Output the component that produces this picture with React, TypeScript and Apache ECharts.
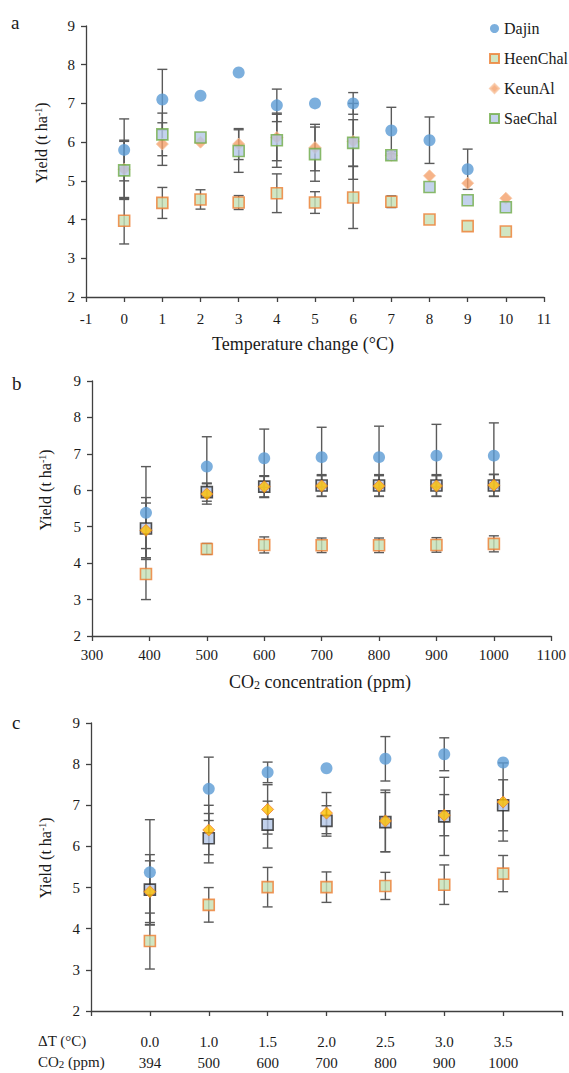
import React, { useEffect, useRef } from "react";
import * as echarts from "echarts";

// ---- Panel a: temperature change ----
const tempX = [0, 1, 2, 3, 4, 5, 6, 7, 8, 9, 10];
const dajinA = [5.8, 7.1, 7.2, 7.8, 6.95, 7.0, 7.0, 6.3, 6.05, 5.3, null];
const dajinAErr = [0.8, 0.78, 0, 0, 0.42, 0, 0.28, 0.6, 0.6, 0.52, 0];
const heenA = [3.97, 4.43, 4.52, 4.44, 4.68, 4.44, 4.57, 4.46, 4.0, 3.83, 3.69];
const heenAErr = [0.6, 0.4, 0.25, 0.18, 0.5, 0.28, 0.8, 0.15, 0, 0, 0];
const keunA = [5.3, 5.95, 6.0, 5.95, 6.12, 5.86, 6.02, 5.66, 5.13, 4.94, 4.55];
const keunAErr = [0.75, 0.55, 0, 0.4, 0.6, 0.6, 0.98, 0, 0, 0, 0];
const saeA = [5.27, 6.2, 6.12, 5.77, 6.05, 5.69, 5.98, 5.66, 4.84, 4.5, 4.32];
const saeAErr = [0.75, 0.55, 0, 0.55, 0.7, 0.7, 0.6, 0.1, 0, 0, 0];

// ---- Panel b: CO2 concentration ----
const co2X = [394, 500, 600, 700, 800, 900, 1000];
const dajinB = [5.38, 6.65, 6.88, 6.91, 6.91, 6.95, 6.95];
const dajinBErr = [1.27, 0.82, 0.8, 0.82, 0.85, 0.86, 0.9];
const heenB = [3.7, 4.39, 4.5, 4.49, 4.49, 4.5, 4.53];
const heenBErr = [0.7, 0.15, 0.22, 0.2, 0.2, 0.2, 0.22];
const keunB = [4.9, 5.9, 6.1, 6.12, 6.12, 6.12, 6.14];
const keunBErr = [0.75, 0.28, 0.3, 0.28, 0.28, 0.28, 0.3];
const saeB = [4.95, 5.95, 6.1, 6.13, 6.13, 6.13, 6.13];
const saeBErr = [0.85, 0.25, 0.28, 0.3, 0.3, 0.3, 0.3];

// ---- Panel c: combined scenarios ----
const scenarioX = [1, 2, 3, 4, 5, 6, 7];
const dTLabels = ["0.0", "1.0", "1.5", "2.0", "2.5", "3.0", "3.5"];
const co2Labels = ["394", "500", "600", "700", "800", "900", "1000"];
const dajinC = [5.37, 7.4, 7.8, 7.9, 8.13, 8.24, 8.04];
const dajinCErr = [1.28, 0.77, 0.25, 0, 0.54, 0.4, 0];
const heenC = [3.7, 4.58, 5.01, 5.01, 5.04, 5.07, 5.34];
const heenCErr = [0.68, 0.42, 0.48, 0.37, 0.33, 0.48, 0.44];
const keunC = [4.9, 6.4, 6.9, 6.81, 6.62, 6.76, 7.08];
const keunCErr = [0.75, 0.6, 0.6, 0.5, 0.75, 0.5, 0.95];
const saeC = [4.95, 6.2, 6.53, 6.62, 6.59, 6.73, 7.0];
const saeCErr = [0.85, 0.6, 0.57, 0.37, 0.72, 0.95, 0.62];

const FONT = "Liberation Serif";
const AX = "#404040";
const TXT = "#1a1a1a";

function errSeries(xs: number[], ys: (number | null)[], errs: number[], g: number) {
  const data = xs
    .map((x, i) => (ys[i] != null && errs[i] > 0 ? [x, (ys[i] as number) - errs[i], (ys[i] as number) + errs[i]] : null))
    .filter(Boolean);
  return {
    type: "custom",
    xAxisIndex: g,
    yAxisIndex: g,
    z: 1,
    silent: true,
    encode: { x: 0, y: [1, 2] },
    data,
    renderItem: (params: any, api: any) => {
      const x = api.value(0);
      const p1 = api.coord([x, api.value(2)]);
      const p2 = api.coord([x, api.value(1)]);
      const w = 5;
      const st = { stroke: "#5a5a5a", lineWidth: 1.4 };
      return {
        type: "group",
        children: [
          { type: "line", shape: { x1: p1[0], y1: p1[1], x2: p2[0], y2: p2[1] }, style: st },
          { type: "line", shape: { x1: p1[0] - w, y1: p1[1], x2: p1[0] + w, y2: p1[1] }, style: st },
          { type: "line", shape: { x1: p2[0] - w, y1: p2[1], x2: p2[0] + w, y2: p2[1] }, style: st },
        ],
      };
    },
  };
}

function pts(xs: number[], ys: (number | null)[]) {
  return xs.map((x, i) => [x, ys[i]]).filter((d) => d[1] != null);
}

const dajinStyle = { color: "#5B9BD5" };
const heenStyle = { color: "#C5E0B4", borderColor: "#ED7D31", borderWidth: 1.6 };
const keunAStyle = { color: "#F4A06A", borderColor: "#F8C4A0", borderWidth: 1 };
const saeAStyle = { color: "#B4C7E7", borderColor: "#70AD47", borderWidth: 1.6 };
const keunBStyle = { color: "#FFC000", borderColor: "#ED7D31", borderWidth: 1 };
const saeBStyle = { color: "#B4C7E7", borderColor: "#262626", borderWidth: 1.6 };

function sc(name: string, g: number, xs: number[], ys: (number | null)[], symbol: string, size: number, style: any) {
  return {
    type: "scatter",
    name,
    xAxisIndex: g,
    yAxisIndex: g,
    z: 3,
    symbol,
    symbolSize: size,
    itemStyle: style,
    data: pts(xs, ys),
  };
}

const axisCommon = {
  axisLine: { show: true, onZero: false, lineStyle: { color: AX, width: 1.3 } },
  axisTick: { show: true, inside: false, length: 5, lineStyle: { color: AX, width: 1.3 } },
  splitLine: { show: false },
};

function yAxis(g: number) {
  return {
    type: "value",
    gridIndex: g,
    min: 2,
    max: 9,
    interval: 1,
    ...axisCommon,
    axisLabel: { color: TXT, fontSize: 15, fontFamily: FONT, margin: 11 },
  };
}

export default function App() {
  const ref = useRef<HTMLDivElement>(null);
  useEffect(() => {
    if (!ref.current) return;
    const chart = echarts.init(ref.current, undefined, { renderer: "svg" });
    const yTitle = (x: number, y: number) => ({
      type: "text",
      x,
      y,
      rotation: Math.PI / 2,
      style: {
        text: "Yield (t ha{sup|-1})",
        fill: TXT,
        fontFamily: FONT,
        fontSize: 16,
        align: "center",
        verticalAlign: "middle",
        rich: { sup: { fontSize: 10, fontFamily: FONT, verticalAlign: "top", fill: TXT } },
      },
    });
    const option: any = {
      animation: false,
      backgroundColor: "#ffffff",
      textStyle: { fontFamily: FONT },
      legend: {
        orient: "vertical",
        left: 484,
        top: 15,
        itemWidth: 9,
        itemHeight: 9,
        itemGap: 13,
        data: ["Dajin", "HeenChal", "KeunAl", "SaeChal"],
        textStyle: { color: TXT, fontSize: 16, fontFamily: FONT, lineHeight: 17 },
        selectedMode: false,
      },
      grid: [
        { left: 86, top: 26, width: 458, height: 271 },
        { left: 92, top: 381, width: 461, height: 255 },
        { left: 91, top: 723, width: 471, height: 288 },
      ],
      xAxis: [
        {
          type: "value",
          gridIndex: 0,
          min: -1,
          max: 11,
          interval: 1,
          ...axisCommon,
          axisLabel: { color: TXT, fontSize: 15, fontFamily: FONT, margin: 14, showMinLabel: true, showMaxLabel: true },
        },
        {
          type: "value",
          gridIndex: 1,
          min: 300,
          max: 1100,
          interval: 100,
          ...axisCommon,
          axisLabel: {
            color: TXT,
            fontSize: 15,
            fontFamily: FONT,
            margin: 11,
            showMinLabel: true,
            showMaxLabel: true,
            formatter: (v: number) => String(v),
          },
        },
        {
          type: "value",
          gridIndex: 2,
          min: 0,
          max: 8,
          interval: 1,
          ...axisCommon,
          axisLabel: {
            color: TXT,
            fontSize: 15,
            fontFamily: FONT,
            margin: 20,
            lineHeight: 21,
            formatter: (v: number) => {
              const i = scenarioX.indexOf(v);
              return i >= 0 ? `${dTLabels[i]}\n${co2Labels[i]}` : "";
            },
          },
        },
      ],
      yAxis: [yAxis(0), yAxis(1), yAxis(2)],
      series: [
        errSeries(tempX, dajinA, dajinAErr, 0),
        errSeries(tempX, heenA, heenAErr, 0),
        errSeries(tempX, keunA, keunAErr, 0),
        errSeries(tempX, saeA, saeAErr, 0),
        sc("HeenChal", 0, tempX, heenA, "rect", 11, heenStyle),
        sc("Dajin", 0, tempX, dajinA, "circle", 12, dajinStyle),
        sc("KeunAl", 0, tempX, keunA, "diamond", 12, keunAStyle),
        sc("SaeChal", 0, tempX, saeA, "rect", 11, saeAStyle),

        errSeries(co2X, dajinB, dajinBErr, 1),
        errSeries(co2X, heenB, heenBErr, 1),
        errSeries(co2X, keunB, keunBErr, 1),
        errSeries(co2X, saeB, saeBErr, 1),
        sc("Dajin (b)", 1, co2X, dajinB, "circle", 12, dajinStyle),
        sc("HeenChal (b)", 1, co2X, heenB, "rect", 11, heenStyle),
        sc("SaeChal (b)", 1, co2X, saeB, "rect", 11, saeBStyle),
        sc("KeunAl (b)", 1, co2X, keunB, "diamond", 12, keunBStyle),

        errSeries(scenarioX, dajinC, dajinCErr, 2),
        errSeries(scenarioX, heenC, heenCErr, 2),
        errSeries(scenarioX, keunC, keunCErr, 2),
        errSeries(scenarioX, saeC, saeCErr, 2),
        sc("Dajin (c)", 2, scenarioX, dajinC, "circle", 12, dajinStyle),
        sc("HeenChal (c)", 2, scenarioX, heenC, "rect", 11, heenStyle),
        sc("SaeChal (c)", 2, scenarioX, saeC, "rect", 11, saeBStyle),
        sc("KeunAl (c)", 2, scenarioX, keunC, "diamond", 12, keunBStyle),
      ],
      graphic: [
        { type: "text", x: 11, y: 22, style: { text: "a", fill: TXT, fontSize: 19, fontFamily: FONT, verticalAlign: "middle" } },
        { type: "text", x: 12, y: 383, style: { text: "b", fill: TXT, fontSize: 19, fontFamily: FONT, verticalAlign: "middle" } },
        { type: "text", x: 12, y: 722, style: { text: "c", fill: TXT, fontSize: 19, fontFamily: FONT, verticalAlign: "middle" } },
        yTitle(41, 143),
        yTitle(45, 490),
        yTitle(45, 858),
        {
          type: "text",
          x: 303,
          y: 344,
          style: { text: "Temperature change (°C)", fill: TXT, fontSize: 18, fontFamily: FONT, align: "center", verticalAlign: "middle" },
        },
        {
          type: "text",
          x: 320,
          y: 682,
          style: {
            text: "CO{sub|2} concentration (ppm)",
            fill: TXT,
            fontSize: 18,
            fontFamily: FONT,
            align: "center",
            verticalAlign: "middle",
            rich: { sub: { fontSize: 12, fontFamily: FONT, verticalAlign: "bottom", fill: TXT } },
          },
        },
        {
          type: "text",
          x: 38,
          y: 1041,
          style: { text: "ΔT (°C)", fill: TXT, fontSize: 15, fontFamily: FONT, align: "left", verticalAlign: "middle" },
        },
        {
          type: "text",
          x: 38,
          y: 1062,
          style: {
            text: "CO{sub|2} (ppm)",
            fill: TXT,
            fontSize: 15,
            fontFamily: FONT,
            align: "left",
            verticalAlign: "middle",
            rich: { sub: { fontSize: 11, fontFamily: FONT, verticalAlign: "bottom", fill: TXT } },
          },
        },
      ],
    };
    chart.setOption(option);
    return () => chart.dispose();
  }, []);
  return <div ref={ref} style={{ position: "absolute", left: 0, top: 0, width: 569, height: 1073 }} />;
}
